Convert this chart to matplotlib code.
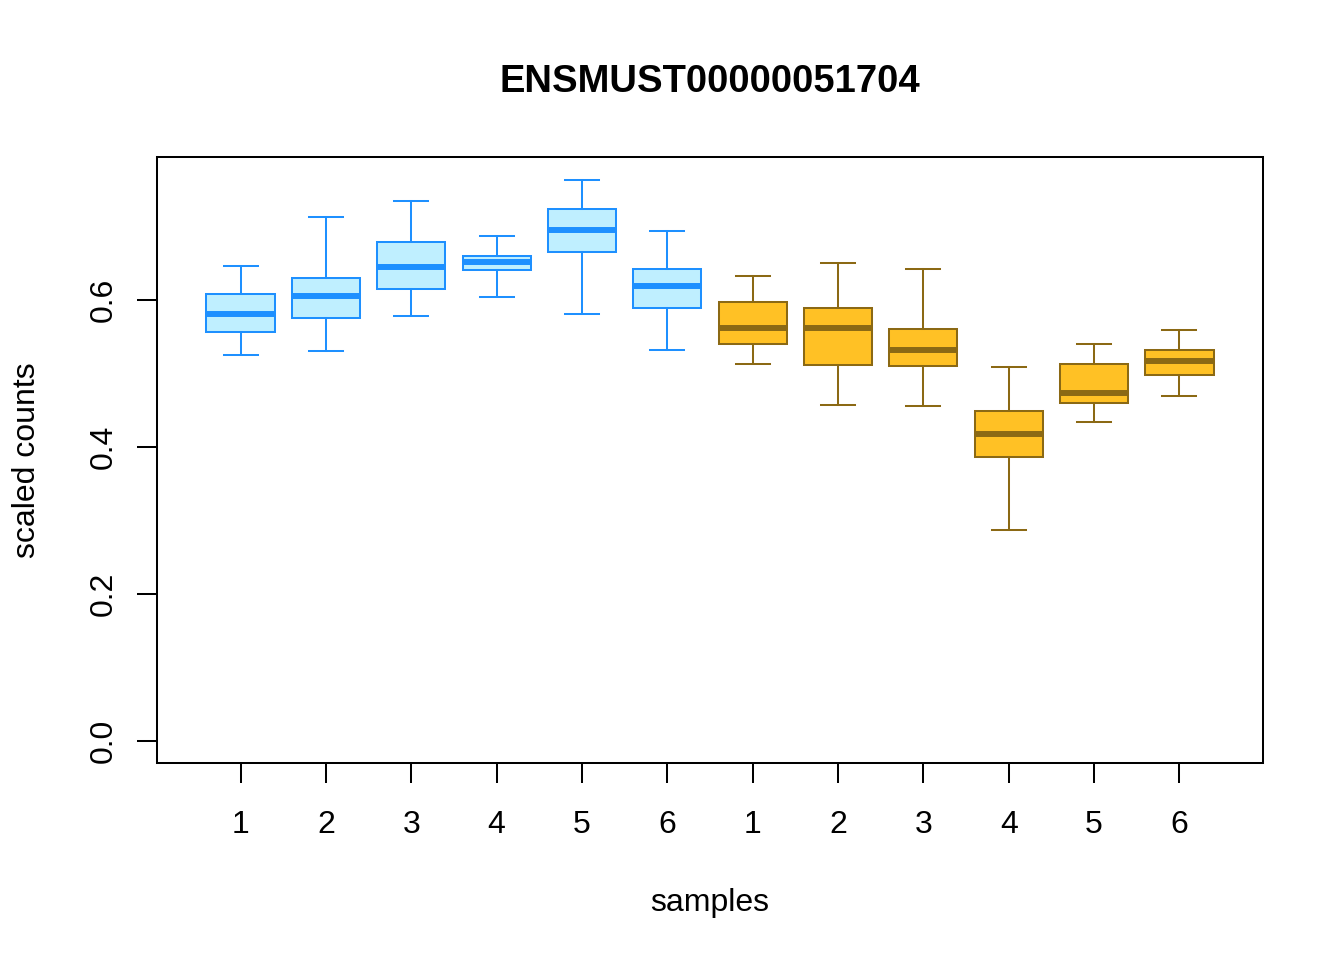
import matplotlib

matplotlib.use('Agg')
import matplotlib.pyplot as plt

plt.rcParams['font.family'] = ['Liberation Sans', 'DejaVu Sans']

TITLE = 'ENSMUST00000051704'
tick_labels = ['1', '2', '3', '4', '5', '6', '1', '2', '3', '4', '5', '6']

# box statistics
whislo = [0.524, 0.530, 0.577, 0.604, 0.581, 0.532, 0.513, 0.457, 0.455, 0.286, 0.434, 0.469]
q1 = [0.556, 0.575, 0.614, 0.640, 0.665, 0.589, 0.540, 0.511, 0.510, 0.386, 0.459, 0.497]
med = [0.580, 0.605, 0.644, 0.651, 0.694, 0.619, 0.561, 0.561, 0.532, 0.417, 0.473, 0.517]
q3 = [0.608, 0.630, 0.679, 0.659, 0.723, 0.641, 0.597, 0.589, 0.560, 0.449, 0.512, 0.531]
whishi = [0.646, 0.712, 0.734, 0.686, 0.763, 0.693, 0.632, 0.650, 0.642, 0.508, 0.539, 0.558]
group = ['a'] * 6 + ['b'] * 6

fills = {'a': '#BFEFFF', 'b': '#FFC125'}
edges = {'a': '#1E90FF', 'b': '#8B6914'}

fig = plt.figure(figsize=(13.44, 9.6), dpi=100)
ax = fig.add_axes([157 / 1344, 1 - 763 / 960, (1263 - 157) / 1344, (763 - 157) / 960])

for i in range(len(med)):
    st = [dict(whislo=whislo[i], q1=q1[i], med=med[i], q3=q3[i], whishi=whishi[i], fliers=[])]
    g = group[i]
    ax.bxp(st, positions=[i + 1], widths=0.8, patch_artist=True,
           boxprops=dict(facecolor=fills[g], edgecolor=edges[g], linewidth=1.45),
           medianprops=dict(color=edges[g], linewidth=4.3, solid_capstyle='butt'),
           whiskerprops=dict(color=edges[g], linewidth=1.45, linestyle='-'),
           capprops=dict(color=edges[g], linewidth=1.45),
           capwidths=0.4, manage_ticks=False)

ax.set_xlim(0.02, 12.98)
ax.set_ylim(-0.0305, 0.794)
ax.set_xticks(range(1, 13))
ax.set_xticklabels(tick_labels)
ax.set_yticks([0.0, 0.2, 0.4, 0.6])
ax.set_yticklabels(['0.0', '0.2', '0.4', '0.6'], rotation=90, va='center')

for s in ax.spines.values():
    s.set_linewidth(1.45)
ax.tick_params(axis='both', length=14.4, width=1.45, labelsize=23, colors='black')
ax.tick_params(axis='x', pad=19.5)
ax.tick_params(axis='y', pad=13)

ax.set_xlabel('samples', fontsize=23, labelpad=34.5)
ax.set_ylabel('scaled counts', fontsize=23, labelpad=34)
ax.set_title(TITLE, fontsize=27.5, fontweight='bold', pad=47)

fig.savefig('out.png', dpi=100)
